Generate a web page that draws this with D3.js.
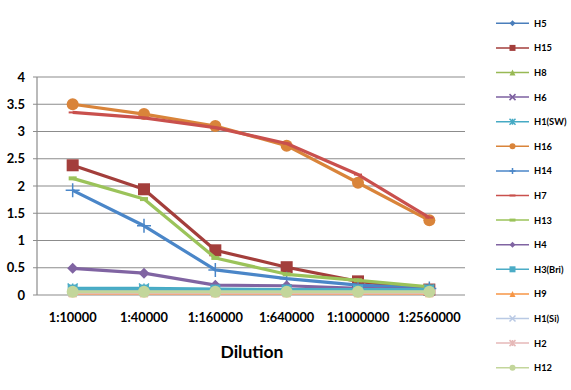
<!DOCTYPE html>
<html><head><meta charset="utf-8">
<script src="https://cdn.jsdelivr.net/npm/d3@7"></script>
<style>body{margin:0;background:#fff}svg{display:block}text{font-family:Lato,"Open Sans",sans-serif;font-weight:bold;fill:#000}</style>
</head><body><svg id="c" width="571" height="390"></svg>
<script>
const categories = ["1:10000","1:40000","1:160000","1:640000","1:1000000","1:2560000"];
const yTicks = [0,0.5,1,1.5,2,2.5,3,3.5,4];
const seriesNames = ["H5","H15","H8","H6","H1(SW)","H16","H14","H7","H13","H4","H3(Bri)","H9","H1(Si)","H2","H12"];
const H5 = [0.06,0.06,0.05,0.05,0.05,0.05];
const H15 = [2.38,1.94,0.82,0.51,0.25,0.1];
const H8 = [0.04,0.04,0.04,0.04,0.04,0.04];
const H6 = [0.05,0.05,0.05,0.05,0.05,0.05];
const H1SW = [0.12,0.12,0.11,0.1,0.1,0.1];
const H16 = [3.5,3.32,3.1,2.74,2.06,1.37];
const H14 = [1.92,1.27,0.46,0.3,0.18,0.12];
const H7 = [3.35,3.25,3.07,2.78,2.21,1.42];
const H13 = [2.14,1.76,0.68,0.38,0.27,0.15];
const H4 = [0.49,0.4,0.18,0.17,0.12,0.1];
const H3Bri = [0.1,0.1,0.1,0.1,0.1,0.1];
const H9 = [0.03,0.03,0.03,0.03,0.03,0.03];
const H1Si = [0.05,0.05,0.05,0.05,0.05,0.05];
const H2 = [0.04,0.04,0.04,0.04,0.04,0.04];
const H12 = [0.06,0.06,0.06,0.06,0.06,0.06];
const seriesValues = [H5,H15,H8,H6,H1SW,H16,H14,H7,H13,H4,H3Bri,H9,H1Si,H2,H12];
const colors = ["#4a7ebb","#a33e3b","#98b954","#7d60a0","#46aac4","#d9843a","#4a86c8","#c9504d","#9bc35a","#8064a2","#4bacc6","#f79646","#b9c9e4","#e6b9b8","#c3d69b"];
const markers = ["diamond","square","triangle","x","asterisk","circle","plus","dash","rect","diamond","square","triangle","x","asterisk","circle"];
const plotSize = [6,12,8,8,10,12,14,8,8,11,10,8,8,8,12];

const svg = d3.select("#c");
const L=37,R=465,T=77,B=295;
const x = d3.scalePoint().domain(categories).range([L,R]).padding(0.5);
const y = d3.scaleLinear().domain([0,4]).range([B,T]);

const g = svg.append("g");
g.selectAll("line.grid").data(yTicks).enter().append("line")
 .attr("x1",L-4).attr("x2",R).attr("y1",d=>y(d)).attr("y2",d=>y(d))
 .attr("stroke","#8c8c8c").attr("stroke-width",1.2);
g.append("line").attr("x1",L).attr("x2",L).attr("y1",T).attr("y2",B).attr("stroke","#8c8c8c").attr("stroke-width",1.2);
g.selectAll("text.yl").data(yTicks).enter().append("text")
 .attr("x",25).attr("y",d=>y(d)+4.5).attr("text-anchor","end").attr("font-size",13).text(d=>d);
g.selectAll("text.xl").data(categories).enter().append("text")
 .attr("x",d=>x(d)).attr("y",322).attr("text-anchor","middle").attr("font-size",12.8).text(d=>d);
svg.append("text").attr("x",252).attr("y",358).attr("text-anchor","middle").attr("font-size",17.5).text("Dilution");

function drawMarker(sel, type, s, color){
  const h=s/2;
  if(type==="circle") sel.append("circle").attr("r",h).attr("fill",color);
  else if(type==="square") sel.append("rect").attr("x",-h).attr("y",-h).attr("width",s).attr("height",s).attr("fill",color);
  else if(type==="rect") sel.append("rect").attr("x",-h).attr("y",-h*0.5).attr("width",s).attr("height",h).attr("fill",color);
  else if(type==="diamond") sel.append("path").attr("d",`M0,${-h}L${h},0L0,${h}L${-h},0Z`).attr("fill",color);
  else if(type==="triangle") sel.append("path").attr("d",`M0,${-h}L${h},${h}L${-h},${h}Z`).attr("fill",color);
  else if(type==="x") sel.append("path").attr("d",`M${-h},${-h}L${h},${h}M${-h},${h}L${h},${-h}`).attr("stroke",color).attr("stroke-width",1.5);
  else if(type==="asterisk") sel.append("path").attr("d",`M${-h},${-h}L${h},${h}M${-h},${h}L${h},${-h}M0,${-h}L0,${h}`).attr("stroke",color).attr("stroke-width",1.5);
  else if(type==="plus") sel.append("path").attr("d",`M0,${-h}L0,${h}M${-h},0L${h},0`).attr("stroke",color).attr("stroke-width",1.5);
  else if(type==="dash") sel.append("path").attr("d",`M${-h},0L${h},0`).attr("stroke",color).attr("stroke-width",2);
}

const line = d3.line().x((d,i)=>x(categories[i])).y(d=>y(d));
seriesNames.forEach((name,si)=>{
  const vals = seriesValues[si];
  const sg = svg.append("g");
  sg.append("path").attr("d",line(vals)).attr("fill","none").attr("stroke",colors[si]).attr("stroke-width",3.2).attr("stroke-linejoin","round");
  vals.forEach((v,i)=>{
    const m = sg.append("g").attr("transform",`translate(${x(categories[i])},${y(v)})`);
    drawMarker(m, markers[si], plotSize[si], colors[si]);
  });
});

const lg = svg.append("g");
seriesNames.forEach((name,si)=>{
  const ly = 23.3 + si*24.6;
  lg.append("line").attr("x1",496).attr("x2",529).attr("y1",ly).attr("y2",ly).attr("stroke",colors[si]).attr("stroke-width",1.5);
  const m = lg.append("g").attr("transform",`translate(512.5,${ly})`);
  drawMarker(m, markers[si], 6, colors[si]);
  lg.append("text").attr("x",534).attr("y",ly+3.5).attr("font-size",9.3).text(name);
});
</script></body></html>
